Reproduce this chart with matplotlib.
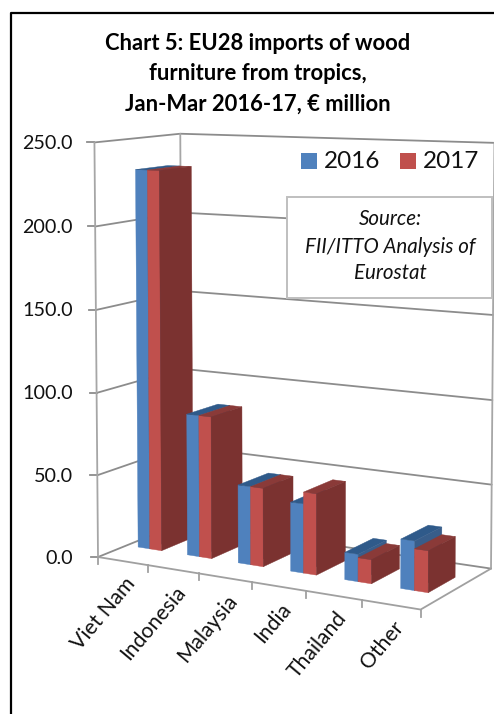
#!/usr/bin/env python3
"""Chart 5: EU28 imports of wood furniture from tropics (Excel style 3D columns)"""
import matplotlib
matplotlib.use("Agg")
import matplotlib.pyplot as plt
from matplotlib.patches import Rectangle
import numpy as np

plt.rcParams['font.family'] = ['Lato', 'DejaVu Sans']

categories = ['Viet Nam', 'Indonesia', 'Malaysia', 'India', 'Thailand', 'Other']
values_2016 = [232, 86, 47, 41, 16, 28.5]
values_2017 = [232, 86, 47, 48, 14, 24]
y_ticks = [0, 50, 100, 150, 200, 250]
legend_labels = ['2016', '2017']

GRID = '#8c8c8c'
BLUE = ('#4f81bd', '#2f5a8a', '#385d8a')
RED = ('#c0504d', '#8a3a38', '#7b3230')

# calibration of the 3D box: (category, depth, height) -> picture pixels
box_3d = [(0, 0, 0), (0, 0, 1), (0, 1, 0), (0, 1, 1), (1, 1, 0), (1, 1, 1), (1, 0, 0)]
box_px = [(100, 557), (93, 142), (180, 523), (182, 134), (492, 568), (494, 143), (420, 610)]


def fit_projection(src, dst):
    rows, rhs = [], []
    for (a, b, c), (px, py) in zip(src, dst):
        rows.append([a, b, c, 1, 0, 0, 0, 0, -px * a, -px * b, -px * c])
        rows.append([0, 0, 0, 0, a, b, c, 1, -py * a, -py * b, -py * c])
        rhs += [px, py]
    sol = np.linalg.lstsq(np.array(rows, float), np.array(rhs, float), rcond=None)[0]
    return np.append(sol, 1.0).reshape(3, 4)


P = fit_projection(box_3d, box_px)


def proj(cat, depth, val):
    """cat in category units, depth 0-1 (front to back), val in EUR million"""
    h = P @ np.array([cat / len(categories), depth, val / y_ticks[-1], 1.0])
    return h[0] / h[2], h[1] / h[2]


def line3d(ax, pts, color=GRID, lw=1.3, z=1):
    xy = [proj(*p) for p in pts]
    ax.plot([p[0] for p in xy], [p[1] for p in xy], color=color, lw=lw, zorder=z,
            solid_capstyle='round')


def draw_bar(ax, x0, x1, d0, d1, val, cols, z):
    front, top, side = cols
    faces = [
        ([(x0, d0, 0), (x1, d0, 0), (x1, d0, val), (x0, d0, val)], front),
        ([(x0, d0, val), (x1, d0, val), (x1, d1, val), (x0, d1, val)], top),
        ([(x1, d0, 0), (x1, d1, 0), (x1, d1, val), (x1, d0, val)], side),
    ]
    for pts, c in faces:
        xy = [proj(*p) for p in pts]
        ax.fill([p[0] for p in xy], [p[1] for p in xy], color=c, lw=0.3, zorder=z)


fig = plt.figure(figsize=(4.94, 7.14), dpi=100)
ax = fig.add_axes([0, 0, 1, 1])
ax.set_xlim(0, 494)
ax.set_ylim(714, 0)
ax.axis('off')

# outer border (top and left only in the crop)
ax.plot([11, 11, 494], [714, 13, 13], color='black', lw=1.6, zorder=5)

# title
for txt, y in zip(['Chart 5: EU28 imports of wood', 'furniture from tropics,',
                   'Jan-Mar 2016-17, € million'], [44, 74, 104]):
    ax.text(258, y, txt, ha='center', va='center', fontsize=15.8, fontweight='bold', color='black')

n = len(categories)

# walls, gridlines
for v in y_ticks:
    line3d(ax, [(0, 0, v), (0, 1, v), (n, 1, v)])
    x, y = proj(0, 0, v)
    ax.plot([x - 7, x], [y, y], color=GRID, lw=1.3, zorder=1)
    ax.text(73, y + 1, f'{v:.1f}', ha='right', va='center', fontsize=14.2, color='#111111')
line3d(ax, [(0, 0, 0), (0, 0, 250)], color='#a6a6a6')
line3d(ax, [(0, 1, 0), (0, 1, 250)], color='#a6a6a6')
line3d(ax, [(n, 1, 0), (n, 1, 250)], color='#a6a6a6')
line3d(ax, [(0, 0, 0), (n, 0, 0), (n, 1, 0)], color='#a0a0a0')

# category ticks and labels
for i in range(n + 1):
    x, y = proj(i, 0, 0)
    ax.plot([x, x], [y, y + 7], color='#a0a0a0', lw=1.3, zorder=1)
for i, name in enumerate(categories):
    x, y = proj(i + 0.5, 0, 0)
    ax.text(x + 1, y + 13, name, rotation=50, rotation_mode='anchor', ha='right', va='top',
            fontsize=15.2, color='#111111')

# bars
half = 0.24
d0, d1 = 0.33, 0.71
for i in range(n):
    c = i + 0.47
    draw_bar(ax, c - half, c, d0, d1, values_2016[i], BLUE, 2 + i * 2)
    draw_bar(ax, c, c + half, d0, d1, values_2017[i], RED, 3 + i * 2)

# legend
for x_sq, x_txt, lab, col in zip([301, 400], [324, 423], legend_labels, [BLUE[0], RED[0]]):
    ax.add_patch(Rectangle((x_sq, 153), 16, 16, facecolor=col, edgecolor='none', zorder=20))
    ax.text(x_txt, 161, lab, ha='left', va='center', fontsize=17.5, color='#111111', zorder=20)

# source box
ax.add_patch(Rectangle((287, 197), 205, 101, facecolor='white', edgecolor='#bfbfbf', lw=1.4, zorder=20))
for txt, y in zip(['Source:', 'FII/ITTO Analysis of', 'Eurostat'], [219, 247, 273]):
    ax.text(390, y, txt, ha='center', va='center', fontsize=14.8, style='italic', color='#111111', zorder=21)

fig.savefig('out.png', dpi=100)
plt.close(fig)
